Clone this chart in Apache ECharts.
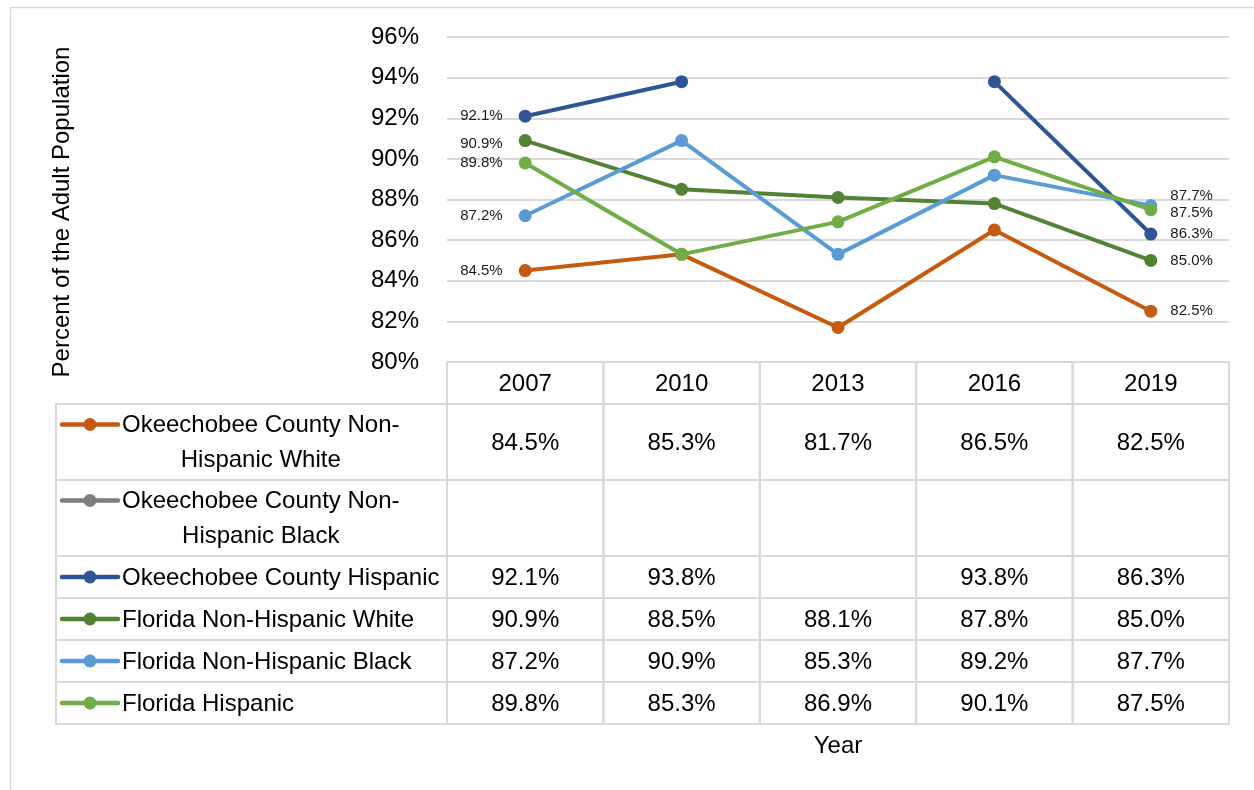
<!DOCTYPE html>
<html>
<head>
<meta charset="utf-8">
<script src="https://cdn.jsdelivr.net/npm/echarts@6/dist/echarts.min.js"></script>
<style>html,body{margin:0;padding:0;background:#fff;}#chart{width:1254px;height:790px;}</style>
</head>
<body>
<div id="chart"></div>
<script>
// ---- data ----
const years = ['2007', '2010', '2013', '2016', '2019'];
const seriesNames = [
  'Okeechobee County Non-Hispanic White',
  'Okeechobee County Non-Hispanic Black',
  'Okeechobee County Hispanic',
  'Florida Non-Hispanic White',
  'Florida Non-Hispanic Black',
  'Florida Hispanic'
];
const okWhite = [84.5, 85.3, 81.7, 86.5, 82.5];
const okBlack = [null, null, null, null, null];
const okHispanic = [92.1, 93.8, null, 93.8, 86.3];
const flWhite = [90.9, 88.5, 88.1, 87.8, 85.0];
const flBlack = [87.2, 90.9, 85.3, 89.2, 87.7];
const flHispanic = [89.8, 85.3, 86.9, 90.1, 87.5];
const yTicks = [80, 82, 84, 86, 88, 90, 92, 94, 96];
const yTitle = 'Percent of the Adult Population';
const xTitle = 'Year';

// ---- styles ----
const seriesValues = [okWhite, okBlack, okHispanic, flWhite, flBlack, flHispanic];
const colors = ['#C55A11', '#7F7F7F', '#2F5597', '#548235', '#5B9BD5', '#70AD47'];
const FONT = '"Liberation Sans", Arial, sans-serif';
const BORDER = '#D9D9D9';
const TEXT = '#000000';
const TABLE_LEFT = 56;
const LABEL_X = 122;
const LABEL_MAX_W = 322;
const LINE_H = 35;
const rowHeightFor = lines => lines === 1 ? 42 : 8 + lines * 34;
const endLabelOffset = { 3: { left: [0, 3] }, 4: { right: [0, -10] }, 5: { right: [0, 3] } };

const fmt = v => (v == null ? '' : v.toFixed(1) + '%');

// wrap legend labels like the table column does
const ctx = document.createElement('canvas').getContext('2d');
ctx.font = '24px ' + FONT;
function wrap(text) {
  const tokens = text.split(/(?<=[ \-])/);
  const lines = [];
  let cur = '';
  tokens.forEach(t => {
    const trial = (cur + t).trimEnd();
    if (cur && ctx.measureText(trial).width > LABEL_MAX_W) {
      lines.push(cur.trimEnd());
      cur = t;
    } else cur += t;
  });
  if (cur) lines.push(cur.trimEnd());
  return lines;
}
const wrapped = seriesNames.map(wrap);

// rows: header + one per series
const rowLines = [1].concat(wrapped.map(l => l.length));
const rowTops = [];
let acc = 0;
rowLines.forEach(n => { rowTops.push(acc); acc += rowHeightFor(n); });
const tableTotal = acc;
const tableRows = rowLines.map((n, i) => [0, rowTops[i], rowTops[i] + rowHeightFor(n), i]);

const chart = echarts.init(document.getElementById('chart'), null, { renderer: 'canvas' });

const lineSeries = seriesNames.map((name, si) => {
  const vals = seriesValues[si];
  const last = vals.length - 1;
  return {
    type: 'line', name, xAxisIndex: 0, yAxisIndex: 0,
    symbol: 'circle', symbolSize: 13, connectNulls: false,
    lineStyle: { width: 4, color: colors[si] },
    itemStyle: { color: colors[si] },
    z: 3 + si,
    data: vals.map((v, k) => {
      const edge = k === 0 ? 'left' : (k === last ? 'right' : null);
      if (v == null) return { value: '-' };
      const item = { value: v, label: { show: false } };
      if (edge) {
        const off = (endLabelOffset[si] && endLabelOffset[si][edge]) || [0, 0];
        item.label = {
          show: true, position: edge, distance: edge === 'left' ? 16 : 13, offset: off,
          formatter: p => fmt(p.value), fontSize: 15, fontFamily: FONT, color: '#1a1a1a'
        };
      }
      return item;
    })
  };
});

const tableSeries = {
  type: 'custom', xAxisIndex: 1, yAxisIndex: 1, clip: false, silent: true,
  data: tableRows,
  renderItem: (params, api) => {
    const ri = api.value(3);
    const y0 = api.coord([0, api.value(1)])[1];
    const y1 = api.coord([0, api.value(2)])[1];
    const cy = (y0 + y1) / 2;
    const bw = api.size([1, 0])[0];
    const children = [];
    years.forEach((yr, k) => {
      const cx = api.coord([k, 0])[0];
      children.push({ type: 'rect', shape: { x: cx - bw / 2, y: y0, width: bw, height: y1 - y0 },
        style: { fill: 'none', stroke: BORDER, lineWidth: 2 } });
      const txt = ri === 0 ? yr : fmt(seriesValues[ri - 1][k]);
      children.push({ type: 'text', style: { text: txt, x: cx, y: cy + 1, align: 'center', verticalAlign: 'middle',
        fontSize: 24, fontFamily: FONT, fill: TEXT } });
    });
    if (ri > 0) {
      const si = ri - 1;
      const firstLeft = api.coord([0, 0])[0] - bw / 2;
      children.push({ type: 'rect', shape: { x: TABLE_LEFT, y: y0, width: firstLeft - TABLE_LEFT, height: y1 - y0 },
        style: { fill: 'none', stroke: BORDER, lineWidth: 2 } });
      const gy = wrapped[si].length > 1 ? cy - LINE_H / 2 : cy;
      children.push({ type: 'line', shape: { x1: 62, y1: gy, x2: 118, y2: gy },
        style: { stroke: colors[si], lineWidth: 4.5, lineCap: 'round' } });
      children.push({ type: 'circle', shape: { cx: 90, cy: gy, r: 6.5 }, style: { fill: colors[si] } });
      const lines = wrapped[si];
      const maxW = Math.max.apply(null, lines.map(l => ctx.measureText(l).width));
      children.push({ type: 'text', style: { text: lines.join('\n'), x: LABEL_X + maxW / 2, y: cy + 1,
        align: 'center', verticalAlign: 'middle', lineHeight: LINE_H,
        fontSize: 24, fontFamily: FONT, fill: TEXT } });
    }
    return { type: 'group', children };
  }
};

chart.setOption({
  animation: false,
  backgroundColor: '#fff',
  grid: [
    { left: 447, right: 25, top: 37, height: 325 },
    { left: 447, right: 25, top: 362, height: tableTotal }
  ],
  xAxis: [
    { type: 'category', gridIndex: 0, data: years, boundaryGap: true,
      axisLine: { show: false }, axisTick: { show: false }, axisLabel: { show: false } },
    { type: 'category', gridIndex: 1, data: years, boundaryGap: true,
      axisLine: { show: false }, axisTick: { show: false }, axisLabel: { show: false }, splitLine: { show: false } }
  ],
  yAxis: [
    { type: 'value', gridIndex: 0, min: yTicks[0], max: yTicks[yTicks.length - 1], interval: yTicks[1] - yTicks[0],
      axisLine: { show: false }, axisTick: { show: false },
      axisLabel: { formatter: '{value}%', fontSize: 24, fontFamily: FONT, color: TEXT, margin: 28 },
      splitLine: { lineStyle: { color: BORDER, width: 2 } } },
    { type: 'value', gridIndex: 1, min: 0, max: tableTotal, inverse: true, show: false }
  ],
  graphic: [
    { type: 'rect', z: -10, silent: true, shape: { x: 10.5, y: 7.5, width: 1400, height: 1000 },
      style: { fill: 'none', stroke: BORDER, lineWidth: 1.5 } },
    { type: 'text', x: 62, y: 212, rotation: Math.PI / 2, silent: true,
      style: { text: yTitle, align: 'center', verticalAlign: 'middle', fontSize: 24, fontFamily: FONT, fill: TEXT } },
    { type: 'text', x: 838, y: 746, silent: true,
      style: { text: xTitle, align: 'center', verticalAlign: 'middle', fontSize: 24, fontFamily: FONT, fill: TEXT } }
  ],
  series: lineSeries.concat([tableSeries])
});
</script>
</body>
</html>
